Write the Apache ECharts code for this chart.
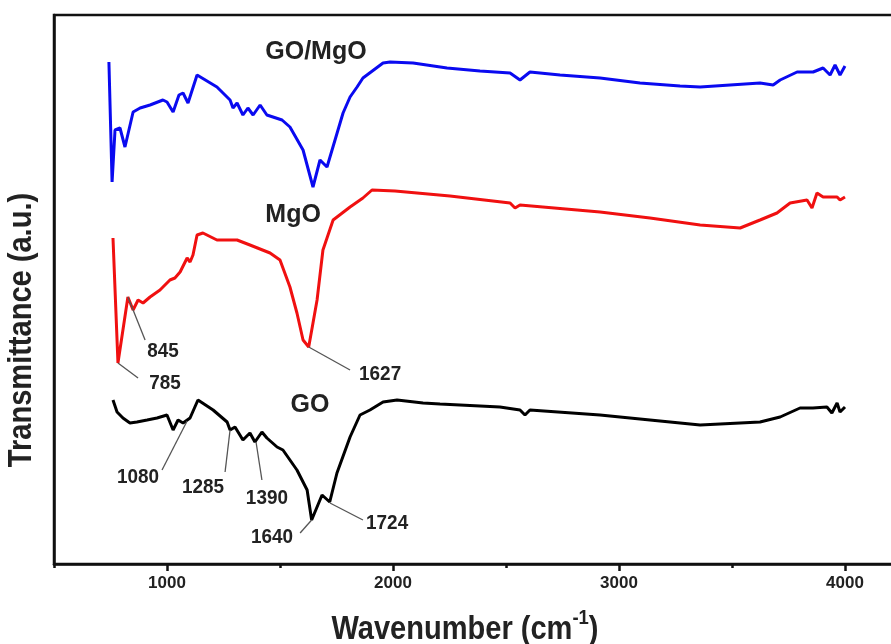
<!DOCTYPE html>
<html>
<head>
<meta charset="utf-8">
<script src="https://cdn.jsdelivr.net/npm/echarts@6/dist/echarts.min.js"></script>
<style>
html,body{margin:0;padding:0;background:#fff;}
#chart{width:891px;height:644px;}
</style>
</head>
<body>
<div id="chart"></div>
<script>
// ---- data (wavenumber in cm^-1, transmittance in arbitrary units) ----
const goMgoWn = [743,757,770,792,814,850,881,925,982,1000,1027,1053,1071,1093,1133,1221,1279,1292,1310,1336,1358,1381,1412,1442,1509,1544,1602,1646,1677,1708,1779,1810,1841,1867,1956,1987,2089,2239,2385,2518,2562,2606,2739,2916,3093,3270,3359,3624,3682,3713,3788,3859,3903,3934,3956,3978,4000];
const goMgoT  = [502,382,434,436,417,452,456,459,464,462,452,469,471,461,489,477,464,456,461,449,456,449,459,449,444,437,414,377,404,397,451,467,477,486,501,502,501,496,493,491,484,492,489,486,481,478,477,481,479,484,492,492,496,489,499,489,498];

const mgoWn = [761,783,827,850,872,894,925,969,1013,1035,1058,1089,1102,1115,1133,1159,1221,1310,1367,1456,1500,1544,1575,1602,1627,1646,1664,1690,1735,1810,1867,1907,2009,2252,2518,2540,2562,2916,3137,3359,3536,3624,3699,3757,3832,3854,3876,3903,3965,3978,4000];
const mgoT  = [326,201,267,254,264,261,267,274,284,286,292,306,302,309,329,331,324,324,319,311,304,277,251,224,217,241,264,314,344,357,366,374,373,368,361,356,359,352,346,339,336,344,351,361,364,356,371,367,367,364,367];

const goWn = [761,779,805,836,867,912,956,1000,1027,1049,1071,1102,1137,1204,1266,1279,1301,1336,1367,1389,1420,1442,1487,1513,1575,1620,1640,1686,1720,1752,1810,1854,1898,1956,2018,2133,2208,2473,2562,2584,2606,2916,3137,3359,3624,3713,3801,3858,3920,3942,3965,3978,4000];
const goT  = [164,152,146,141,142,144,146,149,134,144,141,146,164,154,142,134,137,124,131,122,132,126,117,114,94,74,44,69,62,91,127,149,154,162,164,161,160,157,154,149,154,149,144,139,142,147,156,156,157,151,161,152,157];

const xTickValues = [1000, 2000, 3000, 4000];
const xMinorTickValues = [500, 1500, 2500, 3500];

// peak annotations: label text, peak point, leader end, label anchor
const annText   = ['845','785','1627','1080','1285','1390','1640','1724'];
const annPoint  = [[827,267],[783,201],[1627,217],[1089,143],[1279,134],[1394,122],[1640,44],[1721,61]];
const annEnd    = [[903,224],[872,186],[1810,194],[978,94],[1257,92],[1420,84],[1589,31],[1867,44]];
const annLabel  = [[982,213],[991,181],[1943,190],[872,87],[1159,77],[1442,66],[1465,27],[1974,41]];

const seriesNames = ['GO/MgO','MgO','GO'];
const seriesLabelAt = [[1659,512],[1558,349],[1633,159]];

const xTitle = 'Wavenumber (cm';
const xTitleSup = '-1';
const yTitle = 'Transmittance (a.u.)';

// ---- chart ----
const zip = (a,b) => a.map((v,i)=>[v,b[i]]);
const FONT = '"Liberation Sans",Arial,sans-serif';
const chart = echarts.init(document.getElementById('chart'), null, {renderer:'canvas'});

const leader = annPoint.map((p,i)=>[{coord:p},{coord:annEnd[i]}]);

const option = {
  animation:false,
  backgroundColor:'#fff',
  grid:{left:54, top:15, width:847.5, height:549, show:true, borderColor:'#111', borderWidth:2.5,
        backgroundColor:'transparent', containLabel:false, outerBoundsMode:'none'},
  xAxis:[{
    type:'value', min:500, max:4250,
    splitLine:{show:false},
    axisLine:{show:true,lineStyle:{color:'#111',width:2.5}},
    axisTick:{show:true,inside:false,length:7,lineStyle:{color:'#111',width:2.5},customValues:xTickValues},
    axisLabel:{show:true,customValues:xTickValues,margin:11,formatter:v=>String(v),
               fontFamily:FONT,fontSize:17,fontWeight:'bold',color:'#222'}
  },{
    type:'value', min:500, max:4250, position:'bottom',
    splitLine:{show:false},
    axisLine:{show:false},
    axisTick:{show:true,inside:false,length:4,lineStyle:{color:'#111',width:2.5},customValues:xMinorTickValues},
    axisLabel:{show:false}
  }],
  yAxis:{
    type:'value', min:0, max:549,
    splitLine:{show:false},
    axisLine:{show:true,lineStyle:{color:'#111',width:2.5}},
    axisTick:{show:false}, axisLabel:{show:false}
  },
  series:[
    {name:seriesNames[0],type:'line',data:zip(goMgoWn,goMgoT),showSymbol:false,symbol:'none',
     lineStyle:{color:'#0a0af0',width:3},z:3},
    {name:seriesNames[1],type:'line',data:zip(mgoWn,mgoT),showSymbol:false,symbol:'none',
     lineStyle:{color:'#f01010',width:3},z:3},
    {name:seriesNames[2],type:'line',data:zip(goWn,goT),showSymbol:false,symbol:'none',
     lineStyle:{color:'#000',width:3},z:3,
     markLine:{silent:true,symbol:'none',label:{show:false},lineStyle:{color:'#555',width:1.3,type:'solid'},data:leader,animation:false}}
  ]
};
chart.setOption(option);

// text annotations placed through the axes' own scales
const px = p => chart.convertToPixel({xAxisIndex:0, yAxisIndex:0}, p);
const txt = (text, pos, size, k, rot) => ({
  type:'text', x:pos[0], y:pos[1], scaleX:k, rotation:rot||0, z:10,
  style:{text, font:'bold '+size+'px '+FONT, fill:'#222',
         align:'center', verticalAlign:'middle', textAlign:'center', textVerticalAlign:'middle'}
});
const graphics = [];
annLabel.forEach((p,i)=>graphics.push(txt(annText[i], px(p), 21, 0.9)));
seriesLabelAt.forEach((p,i)=>graphics.push(txt(seriesNames[i], px(p), 25, 1)));
// axis titles
const gridBottom = px([500,0])[1];
graphics.push({
  type:'text', x:465, y:gridBottom+63, scaleX:0.88, z:10,
  style:{text:'{a|'+xTitle+'}{s|'+xTitleSup+'}{a|)}', align:'center', verticalAlign:'middle',
    textAlign:'center', textVerticalAlign:'middle',
    rich:{
      a:{font:'bold 33px '+FONT, fill:'#222', verticalAlign:'bottom', lineHeight:38},
      s:{font:'bold 21px '+FONT, fill:'#222', verticalAlign:'top', lineHeight:38, padding:[0,0,18,0]}
    }}
});
graphics.push(txt(yTitle, [22, 330], 33, 0.88, Math.PI/2));
chart.setOption({graphic:{elements:graphics}});
</script>
</body>
</html>
